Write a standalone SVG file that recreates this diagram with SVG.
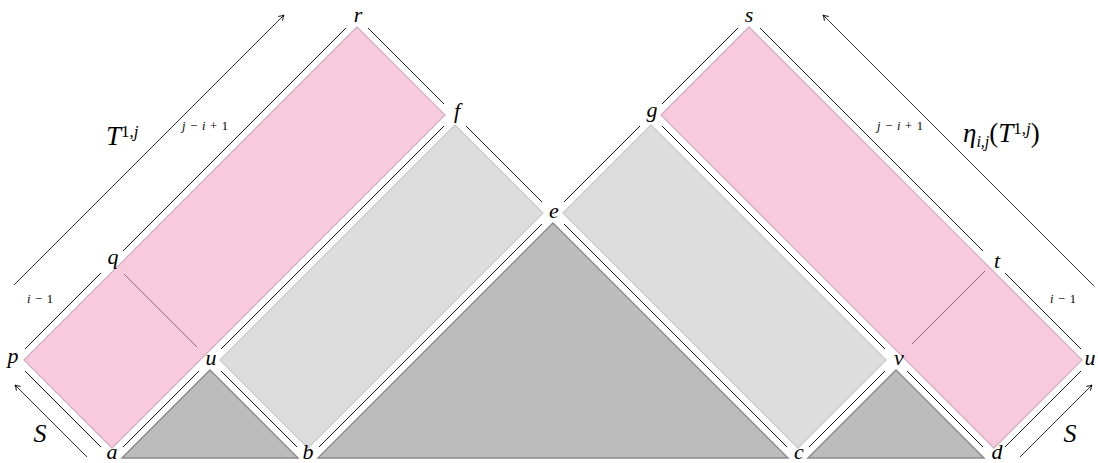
<svg xmlns="http://www.w3.org/2000/svg" width="1098" height="463" viewBox="0 0 1098 463">
<style>
.pink{fill:#f7cade;stroke:#d3b1c1;stroke-width:1.3}
.lgray{fill:#dddddd;stroke:#cbcbcb;stroke-width:1.3}
.dgray{fill:#bcbcbc;stroke:#8a8a8a;stroke-width:1.4;stroke-linejoin:miter}
.edge{stroke:#000;stroke-width:0.9;fill:none}
.div{stroke:#8a5a72;stroke-width:0.9;fill:none}
.arr{stroke:#000;stroke-width:0.8;fill:none;marker-end:url(#ah)}
.lbl{font-family:'Liberation Serif','DejaVu Serif',serif;font-style:italic;font-size:22px;fill:#000;text-anchor:middle}
.lblS{font-family:'Liberation Serif','DejaVu Serif',serif;font-style:italic;font-size:26px;fill:#000;text-anchor:middle}
.small{font-family:'Liberation Serif','DejaVu Serif',serif;font-size:12.5px;fill:#000;text-anchor:middle;word-spacing:1.5px}
.big{font-family:'Liberation Serif','DejaVu Serif',serif;font-size:27px;fill:#000}
</style>
<defs>
<marker id="ah" markerWidth="10" markerHeight="10" refX="0" refY="0" viewBox="-6 -5 8 10" orient="auto" markerUnits="userSpaceOnUse">
<path d="M-5,-3 Q-2,-0.6 0,0 Q-2,0.6 -5,3" fill="none" stroke="#000" stroke-width="0.9"/>
</marker>
</defs>

<g id="pink-left"><polygon class="pink" points="24,360 357,27 445,115 112,448"/></g>
<g id="gray-left"><polygon class="lgray" points="220,360 455,125 543,213 308,448"/></g>
<g id="tri-ab"><polygon class="dgray" points="122,458 210,370 298,458"/></g>
<g id="tri-bc"><polygon class="dgray" points="318,458 553,223 788,458"/></g>
<g id="gray-right"><polygon class="lgray" points="563,213 651,125 886,360 798,448"/></g>
<g id="pink-right"><polygon class="pink" points="661,115 749,27 1082,360 994,448"/></g>
<g id="tri-cd"><polygon class="dgray" points="808,458 896,370 984,458"/></g>

<g id="connectors">
<line class="edge" x1="25" y1="349" x2="101" y2="273"/>
<line class="edge" x1="123" y1="251" x2="346" y2="28"/>
<line class="edge" x1="368" y1="28" x2="444" y2="104"/>
<line class="edge" x1="466" y1="126" x2="542" y2="202"/>
<line class="edge" x1="25" y1="371" x2="101" y2="447"/>
<line class="edge" x1="123" y1="447" x2="199" y2="371"/>
<line class="edge" x1="221" y1="371" x2="297" y2="447"/>
<line class="edge" x1="221" y1="349" x2="444" y2="126"/>
<line class="edge" x1="319" y1="447" x2="542" y2="224"/>
<line class="edge" x1="564" y1="224" x2="787" y2="447"/>
<line class="edge" x1="564" y1="202" x2="640" y2="126"/>
<line class="edge" x1="662" y1="104" x2="738" y2="28"/>
<line class="edge" x1="760" y1="28" x2="983" y2="251"/>
<line class="edge" x1="1005" y1="273" x2="1081" y2="349"/>
<line class="edge" x1="1081" y1="371" x2="1005" y2="447"/>
<line class="edge" x1="983" y1="447" x2="907" y2="371"/>
<line class="edge" x1="885" y1="371" x2="809" y2="447"/>
<line class="edge" x1="662" y1="126" x2="885" y2="349"/>
<line class="div" x1="124" y1="274" x2="197" y2="347"/>
<line class="div" x1="985" y1="271" x2="912" y2="344"/>
<line class="arr" x1="14" y1="285" x2="284" y2="15"/>
<line class="arr" x1="1094" y1="286" x2="823" y2="15"/>
<line class="arr" x1="87" y1="457" x2="15" y2="385"/>
<line class="arr" x1="1020" y1="457" x2="1092" y2="385"/>
</g>

<g id="labels">
<text class="lbl" x="358" y="22">r</text>
<text class="lbl" x="749" y="22">s</text>
<text class="lbl" x="457" y="118">f</text>
<text class="lbl" x="652" y="117">g</text>
<text class="lbl" x="554" y="218">e</text>
<text class="lbl" x="113" y="264">q</text>
<text class="lbl" x="997" y="268">t</text>
<text class="lbl" x="13" y="363">p</text>
<text class="lbl" x="211" y="365">u</text>
<text class="lbl" x="899" y="365">v</text>
<text class="lbl" x="1090" y="365">u</text>
<text class="lbl" x="112" y="459">a</text>
<text class="lbl" x="308" y="459">b</text>
<text class="lbl" x="799" y="459">c</text>
<text class="lbl" x="997" y="459">d</text>
<text class="lblS" x="40" y="442">S</text>
<text class="lblS" x="1070" y="442">S</text>
<text class="small" x="40" y="303"><tspan font-style="italic">i</tspan> − 1</text>
<text class="small" x="1063" y="303"><tspan font-style="italic">i</tspan> − 1</text>
<text class="small" x="205" y="130"><tspan font-style="italic">j</tspan> − <tspan font-style="italic">i</tspan> + 1</text>
<text class="small" x="900" y="130"><tspan font-style="italic">j</tspan> − <tspan font-style="italic">i</tspan> + 1</text>
<text class="big" x="106" y="145"><tspan font-style="italic">T</tspan><tspan font-size="17" dy="-8">1,<tspan font-style="italic">j</tspan></tspan></text>
<text class="big" x="963" y="142"><tspan font-style="italic">η</tspan><tspan font-size="16" font-style="italic" dy="5">i,j</tspan><tspan dy="-5">(</tspan><tspan font-style="italic">T</tspan><tspan font-size="17" dy="-8">1,<tspan font-style="italic">j</tspan></tspan><tspan dy="8">)</tspan></text>
</g>
</svg>
